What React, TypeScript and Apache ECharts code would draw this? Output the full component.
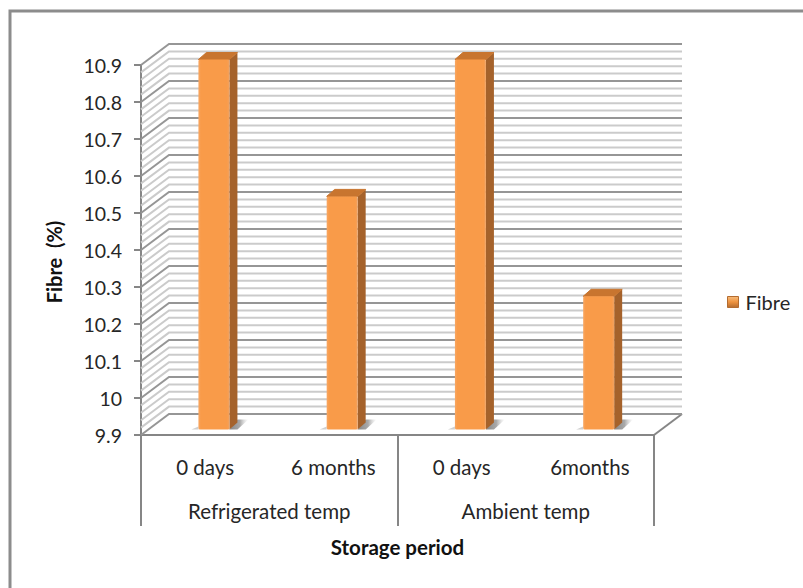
import React, { useEffect, useRef } from "react";
import * as echarts from "echarts";

const periods = ["0 days", "6 months", "0 days", "6months"];
const temperatures = ["Refrigerated temp", "Ambient temp"];
const fibreValues = [10.9, 10.53, 10.9, 10.26];
const majorLevels = [9.9, 10, 10.1, 10.2, 10.3, 10.4, 10.5, 10.6, 10.7, 10.8, 10.9];
const minorLevels = [
  9.92, 9.94, 9.96, 9.98, 10.02, 10.04, 10.06, 10.08, 10.12, 10.14, 10.16, 10.18,
  10.22, 10.24, 10.26, 10.28, 10.32, 10.34, 10.36, 10.38, 10.42, 10.44, 10.46, 10.48,
  10.52, 10.54, 10.56, 10.58, 10.62, 10.64, 10.66, 10.68, 10.72, 10.74, 10.76, 10.78,
  10.82, 10.84, 10.86, 10.88,
];

const FONT = "Lato, 'Noto Sans', sans-serif";
const AXIS_GREY = "#868686";
// Projection of the plot's depth: the back wall sits up and to the right of the axes.
const DEPTH_X = 28;
const DEPTH_Y = 21;
const BAR_SHIFT_X = 8.8;
const BAR_SHIFT_Y = 5.5;
const BAR_WIDTH = 31;
const SIDE_X = 8;
const SIDE_Y = 7;

function wallLine(stroke: string, width: number, z: number) {
  return (params: any, api: any) => {
    const y = api.coord([0, api.value(1)])[1];
    const left = params.coordSys.x;
    const right = left + params.coordSys.width;
    return {
      type: "polyline",
      z2: z,
      shape: {
        points: [
          [left, y],
          [left + DEPTH_X, y - DEPTH_Y],
          [right + DEPTH_X, y - DEPTH_Y],
        ],
      },
      style: { stroke, lineWidth: width, fill: "none" },
    };
  };
}

function renderBar(_params: any, api: any) {
  const [cx, top] = api.coord([api.value(0), api.value(1)]);
  const [, base] = api.coord([api.value(0), 9.9]);
  const x0 = cx + BAR_SHIFT_X - BAR_WIDTH / 2;
  const x1 = x0 + BAR_WIDTH;
  const yTop = top - BAR_SHIFT_Y;
  const yBase = base - BAR_SHIFT_Y;
  return {
    type: "group",
    children: [
      // Soft floor shadow, leaving the bar's foot towards the right.
      {
        type: "polygon",
        shape: {
          points: [
            [x1, yBase],
            [x1 + SIDE_X, yBase - 10],
            [x1 + 19, yBase - 10],
            [x1 + 8, yBase],
          ],
        },
        style: {
          fill: new echarts.graphic.LinearGradient(0, 0, 1, 0, [
            { offset: 0, color: "rgba(120,120,120,0.9)" },
            { offset: 0.55, color: "rgba(140,140,140,0.75)" },
            { offset: 1, color: "rgba(200,200,200,0)" },
          ]),
        },
      },
      {
        type: "polygon",
        shape: {
          points: [
            [x0 - 7, yBase],
            [x0, yBase - 3],
            [x0, yBase],
          ],
        },
        style: { fill: "rgba(170,170,170,0.55)" },
      },
      {
        type: "polygon",
        shape: {
          points: [
            [x1, yTop],
            [x1 + SIDE_X, yTop - SIDE_Y],
            [x1 + SIDE_X, yBase - SIDE_Y],
            [x1, yBase],
          ],
        },
        style: { fill: "#A5622B" },
      },
      {
        type: "polygon",
        shape: {
          points: [
            [x0, yTop],
            [x0 + SIDE_X, yTop - SIDE_Y],
            [x1 + SIDE_X, yTop - SIDE_Y],
            [x1, yTop],
          ],
        },
        style: { fill: "#C8752F", stroke: "#C8752F", lineWidth: 1, lineJoin: "round" },
      },
      {
        type: "rect",
        shape: { x: x0, y: yTop, width: BAR_WIDTH, height: yBase - yTop, r: 1.5 },
        style: {
          fill: new echarts.graphic.LinearGradient(0, 0, 1, 0, [
            { offset: 0, color: "#F8A763" },
            { offset: 0.08, color: "#F99B49" },
            { offset: 0.92, color: "#F99B49" },
            { offset: 1, color: "#F0A262" },
          ]),
        },
      },
    ],
  };
}

export default function App() {
  const ref = useRef<HTMLDivElement>(null);

  useEffect(() => {
    const chart = echarts.init(ref.current!, undefined, { renderer: "svg" });
    chart.setOption({
      animation: false,
      backgroundColor: "#fff",
      textStyle: { fontFamily: FONT, color: "#262626" },
      grid: { left: 141, top: 65, width: 513, height: 370 },
      legend: {
        data: ["Fibre"],
        left: 727,
        top: 292,
        padding: 0,
        icon: "rect",
        itemWidth: 11,
        itemHeight: 11,
        itemGap: 0,
        selectedMode: false,
        itemStyle: { borderColor: "#B46C30", borderWidth: 1 },
        textStyle: { fontFamily: FONT, fontSize: 20, color: "#262626", padding: [0, 0, 0, 2] },
      },
      xAxis: [
        {
          type: "category",
          data: periods,
          position: "bottom",
          axisLine: { show: true, lineStyle: { color: AXIS_GREY, width: 2 } },
          axisTick: { show: false },
          axisLabel: { margin: 21, fontSize: 20.5, fontFamily: FONT, color: "#262626", interval: 0 },
        },
        {
          type: "category",
          data: temperatures,
          position: "bottom",
          name: "Storage period",
          nameLocation: "middle",
          nameGap: 101,
          nameTextStyle: { fontFamily: FONT, fontSize: 20.5, fontWeight: "bold", color: "#111" },
          axisLine: { show: false },
          axisTick: { show: true, length: 91, lineStyle: { color: AXIS_GREY, width: 2 } },
          axisLabel: { margin: 65, fontSize: 20.5, fontFamily: FONT, color: "#262626", interval: 0 },
        },
      ],
      yAxis: {
        type: "value",
        min: 9.9,
        max: 10.9,
        interval: 0.1,
        name: "Fibre  (%)",
        nameLocation: "middle",
        nameGap: 77,
        nameTextStyle: {
          fontFamily: FONT,
          fontSize: 20,
          fontWeight: "bold",
          color: "#111",
          padding: [0, 24, 0, 0],
        },
        axisLine: { show: true, onZero: false, lineStyle: { color: AXIS_GREY, width: 2 } },
        axisTick: { show: true, length: 7, lineStyle: { color: AXIS_GREY, width: 2 } },
        axisLabel: { margin: 19, fontSize: 19.5, fontFamily: FONT, color: "#262626" },
        splitLine: { show: false },
      },
      series: [
        {
          type: "custom",
          name: "minor walls",
          silent: true,
          clip: false,
          z: 1,
          data: minorLevels.map((v) => [0, v]),
          renderItem: wallLine("#CBCBCB", 2, 1),
        },
        {
          type: "custom",
          name: "major walls",
          silent: true,
          clip: false,
          z: 2,
          data: majorLevels.map((v) => [0, v]),
          renderItem: wallLine("#969696", 2, 2),
        },
        {
          type: "custom",
          name: "floor edge",
          silent: true,
          clip: false,
          z: 2,
          data: [[3, 9.9]],
          renderItem: (params: any, api: any) => {
            const y = api.coord([0, api.value(1)])[1];
            const right = params.coordSys.x + params.coordSys.width;
            return {
              type: "line",
              shape: { x1: right, y1: y, x2: right + DEPTH_X, y2: y - DEPTH_Y },
              style: { stroke: AXIS_GREY, lineWidth: 2 },
            };
          },
        },
        {
          type: "custom",
          name: "Fibre",
          clip: false,
          z: 3,
          itemStyle: {
            color: new echarts.graphic.LinearGradient(0, 0, 0, 1, [
              { offset: 0, color: "#F7BC7C" },
              { offset: 0.5, color: "#EE9340" },
              { offset: 1, color: "#B46C30" },
            ]),
          },
          data: fibreValues.map((v, i) => [i, v]),
          renderItem: renderBar,
        },
      ],
      graphic: [
        {
          type: "polyline",
          silent: true,
          shape: { points: [[803, 11], [10, 11], [10, 588]] },
          style: { stroke: "#8C8C8C", lineWidth: 3, fill: "none" },
        },
      ],
    });
    return () => chart.dispose();
  }, []);

  return (
    <div
      ref={ref}
      style={{ position: "absolute", left: 0, top: 0, width: 803, height: 588 }}
    />
  );
}
